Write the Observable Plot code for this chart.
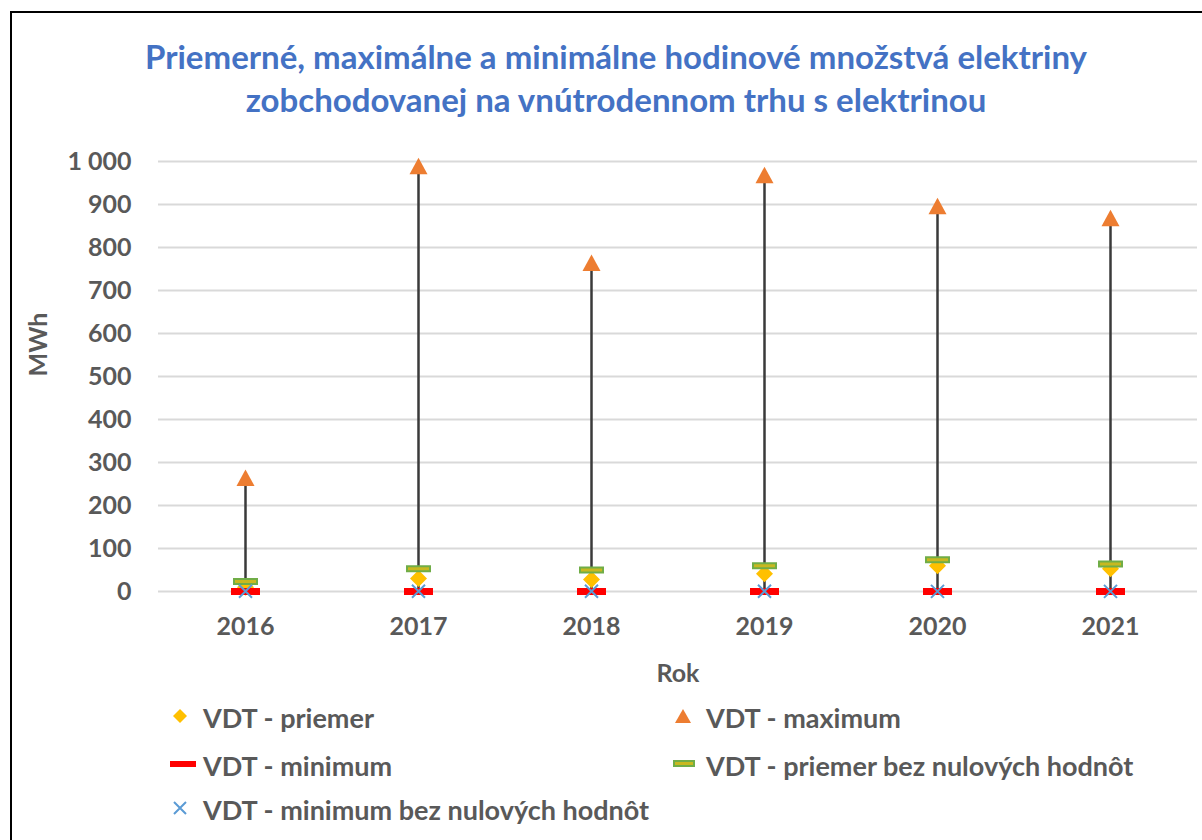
<!DOCTYPE html>
<html>
<head>
<meta charset="utf-8">
<script src="https://cdn.jsdelivr.net/npm/d3@7"></script>
<script src="https://cdn.jsdelivr.net/npm/@observablehq/plot@0.6"></script>
<style>
  html, body { margin: 0; padding: 0; background: #fff; }
  body { width: 1202px; height: 840px; position: relative; overflow: hidden; font-family: Lato, "Open Sans", sans-serif; }
  #frame { position: absolute; left: 10px; top: 11px; width: 1300px; height: 900px; border: 2px solid #000; box-sizing: border-box; }
  #title { position: absolute; left: 0; width: 1232px; top: 35px; text-align: center; color: #4472C4; font-weight: bold; font-size: 33px; line-height: 43px; }
  #chart { position: absolute; left: 0; top: 130px; }
  .leg { position: absolute; color: #595959; font-weight: bold; font-size: 27px; line-height: 32px; white-space: nowrap; }
  .leg svg { position: absolute; left: -33px; top: 4px; }
</style>
</head>
<body>
<div id="frame"></div>
<div id="title">Priemerné, maximálne a minimálne hodinové množstvá elektriny<br>zobchodovanej na vnútrodennom trhu s elektrinou</div>
<div id="chart"></div>
<div id="legend"></div>
<script>
const years = ["2016", "2017", "2018", "2019", "2020", "2021"];
const priemer = [10, 30, 28, 41, 60, 53];
const maximum = [263, 988, 763, 967, 895, 867];
const minimum = [0, 0, 0, 0, 0, 0];
const priemerBezNul = [23, 53, 50, 60, 74, 64];
const minimumBezNul = [0.5, 0.5, 0.5, 0.5, 0.3, 0.3];
const yTicks = [0, 100, 200, 300, 400, 500, 600, 700, 800, 900, 1000];

const seriesNames = [
  "VDT - priemer", "VDT - maximum", "VDT - minimum",
  "VDT - priemer bez nulových hodnôt", "VDT - minimum bez nulových hodnôt"
];

const rows = years.map((y, i) => ({
  year: y, priemer: priemer[i], maximum: maximum[i], minimum: minimum[i],
  priemerBezNul: priemerBezNul[i], minimumBezNul: minimumBezNul[i]
}));

const dashSymbol = (w, h) => ({
  draw(ctx) { ctx.rect(-w / 2, -h / 2, w, h); }
});
const diamondSymbol = {
  draw(ctx) { const r = 8.5; ctx.moveTo(0, -r); ctx.lineTo(r, 0); ctx.lineTo(0, r); ctx.lineTo(-r, 0); ctx.closePath(); }
};
const triangleSymbol = {
  draw(ctx) { const r = 9; ctx.moveTo(0, -r); ctx.lineTo(r, r * 0.85); ctx.lineTo(-r, r * 0.85); ctx.closePath(); }
};
const crossSymbol = {
  draw(ctx) { const r = 6.5; ctx.moveTo(-r, -r); ctx.lineTo(r, r); ctx.moveTo(r, -r); ctx.lineTo(-r, r); }
};

const fmt = d => d3.format(",")(d).replace(/,/g, " ");

const chart = Plot.plot({
  width: 1202,
  height: 570,
  marginTop: 31,
  marginBottom: 109,
  marginLeft: 158,
  marginRight: 5,
  style: { fontFamily: "Lato, sans-serif", fontWeight: "bold", fontSize: "25px", color: "#595959", background: "transparent", overflow: "visible" },
  x: { type: "point", domain: years, padding: 0.5, label: null },
  y: { domain: [0, 1000], label: null },
  marks: [
    Plot.gridY(yTicks, { stroke: "#d9d9d9", strokeOpacity: 1, strokeWidth: 2 }),
    Plot.axisY(yTicks, { tickSize: 0, tickPadding: 27, tickFormat: fmt, fill: "#595959", fontSize: 25, fontWeight: "bold", label: null }),
    Plot.axisX(years, { tickSize: 0, tickPadding: 26, fill: "#595959", fontSize: 25, fontWeight: "bold", label: null }),
    Plot.text(["Rok"], { frameAnchor: "bottom", dy: 82, fill: "#595959", fontSize: 25, fontWeight: "bold", lineAnchor: "middle" }),
    Plot.text(["MWh"], { frameAnchor: "left", dx: -120, rotate: -90, fill: "#595959", fontSize: 25, fontWeight: "bold" }),
    Plot.ruleX(rows, { x: "year", y1: "minimum", y2: "maximum", stroke: "#3a3a3a", strokeWidth: 2.5 }),
    Plot.dot(rows, { x: "year", y: "priemer", symbol: diamondSymbol, r: 1, fill: "#FFC000", stroke: "none" }),
    Plot.dot(rows, { x: "year", y: "minimum", symbol: dashSymbol(29, 7), r: 1, fill: "#FF0000", stroke: "none" }),
    Plot.dot(rows, { x: "year", y: "priemerBezNul", symbol: dashSymbol(23, 5), r: 1, fill: "#C8B820", stroke: "#70AD47", strokeWidth: 2 }),
    Plot.dot(rows, { x: "year", y: "minimumBezNul", symbol: crossSymbol, r: 1, fill: "none", stroke: "#5B9BD5", strokeWidth: 2 }),
    Plot.dot(rows, { x: "year", y: "maximum", symbol: triangleSymbol, r: 1, fill: "#ED7D31", stroke: "none" })
  ]
});
document.getElementById("chart").appendChild(chart);

// Legend
const legendItems = [
  { name: seriesNames[0], x: 203, y: 702, m: `<polygon points="7,0 14,7 7,14 0,7" fill="#FFC000"/>` },
  { name: seriesNames[1], x: 706, y: 702, m: `<polygon points="7,0 15,14 -1,14" fill="#ED7D31"/>` },
  { name: seriesNames[2], x: 203, y: 750, m: `<rect x="-3" y="4" width="26" height="6" fill="#FF0000"/>` },
  { name: seriesNames[3], x: 706, y: 750, m: `<rect x="-2" y="4" width="20" height="5" fill="#C8B820" stroke="#70AD47" stroke-width="2"/>` },
  { name: seriesNames[4], x: 203, y: 794, m: `<path d="M1,1L13,13M13,1L1,13" stroke="#5B9BD5" stroke-width="2"/>` }
];
const leg = document.getElementById("legend");
legendItems.forEach(it => {
  const d = document.createElement("div");
  d.className = "leg";
  d.style.left = it.x + "px";
  d.style.top = it.y + "px";
  d.innerHTML = `<svg width="26" height="26" viewBox="-3 -3 26 26" overflow="visible">${it.m}</svg>${it.name}`;
  leg.appendChild(d);
});
</script>
</body>
</html>
